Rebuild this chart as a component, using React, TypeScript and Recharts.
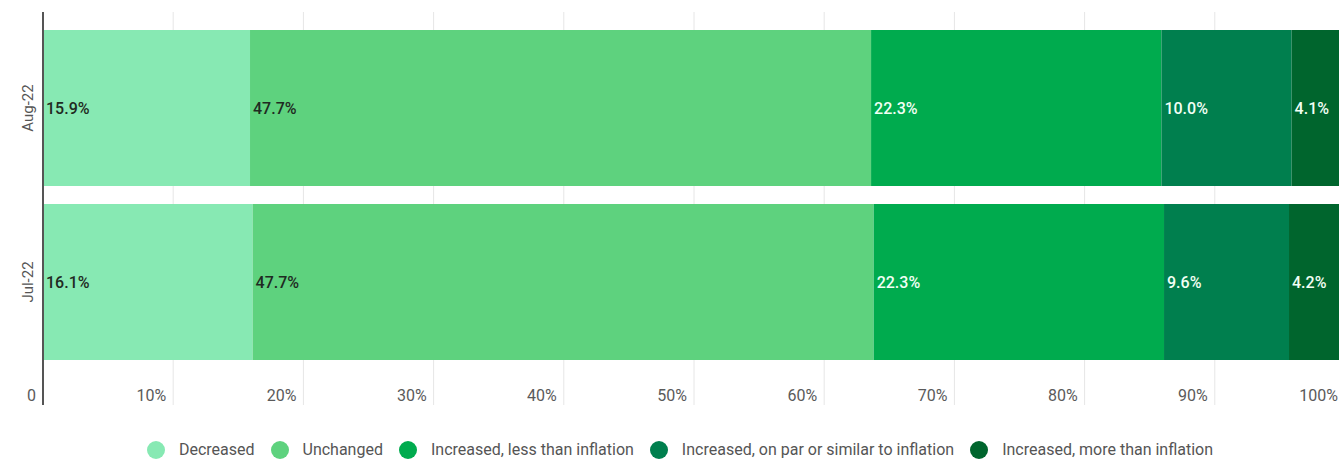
import { BarChart, Bar, XAxis, YAxis, CartesianGrid, LabelList } from 'recharts'

const periods = ['Aug-22', 'Jul-22']
const decreased = [15.9, 16.1]
const unchanged = [47.7, 47.7]
const lessThanInflation = [22.3, 22.3]
const onPar = [10.0, 9.6]
const moreThanInflation = [4.1, 4.2]
const xTicks = [0, 10, 20, 30, 40, 50, 60, 70, 80, 90, 100]

const series = [
  { key: 'Decreased', color: '#87e9b3', text: '#1f2a22' },
  { key: 'Unchanged', color: '#5ed27e', text: '#1f2a22' },
  { key: 'Increased, less than inflation', color: '#00ab4e', text: '#f2fff5' },
  { key: 'Increased, on par or similar to inflation', color: '#007f4e', text: '#f2fff5' },
  { key: 'Increased, more than inflation', color: '#00652d', text: '#f2fff5' },
]

const data = periods.map((p, i) => ({
  period: p,
  Decreased: decreased[i],
  Unchanged: unchanged[i],
  'Increased, less than inflation': lessThanInflation[i],
  'Increased, on par or similar to inflation': onPar[i],
  'Increased, more than inflation': moreThanInflation[i],
}))

const font = 'Roboto, "Noto Sans", sans-serif'

const XTick = ({ x, y, payload }: any) => (
  <text x={x - 7} y={y - 18} textAnchor="end" dominantBaseline="central" fill="#5a5a5a" fontSize={16} fontFamily={font}>
    {payload.value === 0 ? '0' : `${payload.value}%`}
  </text>
)

const YTick = ({ x, y, payload }: any) => (
  <text
    x={x - 2}
    y={y}
    transform={`rotate(-90 ${x - 2} ${y})`}
    textAnchor="middle"
    fill="#555"
    fontSize={15}
    fontFamily={font}
  >
    {payload.value}
  </text>
)

const LegendContent = () => (
  <div style={{ display: 'flex', justifyContent: 'center', alignItems: 'center', gap: 16, fontFamily: font, fontSize: 16, color: '#555' }}>
    {series.map((s) => (
      <div key={s.key} style={{ display: 'flex', alignItems: 'center' }}>
        <span style={{ width: 18, height: 18, borderRadius: 9, background: s.color, display: 'inline-block', marginRight: 14 }} />
        <span>{s.key}</span>
      </div>
    ))}
  </div>
)

export default function App() {
  return (
    <div style={{ position: 'absolute', left: 0, top: 0, width: 1360, height: 462, background: '#fff' }}>
      <BarChart
        width={1360}
        height={462}
        data={data}
        layout="vertical"
        margin={{ top: 12, right: 15, bottom: 27, left: 0 }}
        barCategoryGap={9}
      >
        <CartesianGrid horizontal={false} stroke="#e6e6e6" />
        <XAxis
          type="number"
          domain={[0, 100]}
          ticks={xTicks}
          height={30}
          axisLine={false}
          tickLine={false}
          tick={<XTick />}
          interval={0}
        />
        <YAxis
          type="category"
          dataKey="period"
          width={43}
          axisLine={{ stroke: '#555', strokeWidth: 2 }}
          tickLine={false}
          tick={<YTick />}
          padding={{ top: 9, bottom: 36 }}
        />
        {series.map((s) => (
          <Bar key={s.key} dataKey={s.key} stackId="a" fill={s.color} isAnimationActive={false}>
            <LabelList
              dataKey={s.key}
              position="insideLeft"
              offset={3}
              formatter={(v: any) => `${Number(v).toFixed(1)}%`}
              fill={s.text}
              fontSize={16}
              fontFamily={font}
              fontWeight={500}
            />
          </Bar>
        ))}
      </BarChart>
      <div style={{ position: 'absolute', left: 0, width: 1360, top: 440 }}>
        <LegendContent />
      </div>
    </div>
  )
}
